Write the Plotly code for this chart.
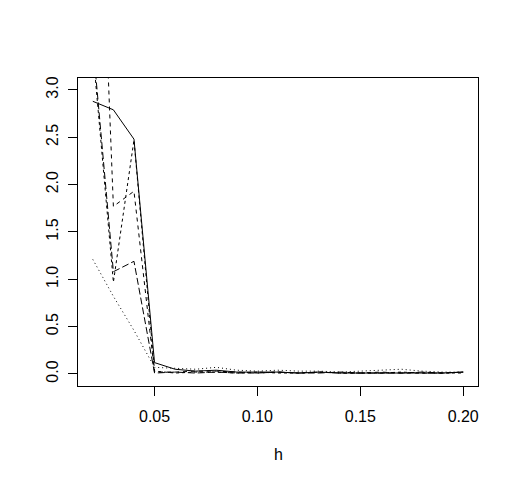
import plotly.graph_objects as go

h = [0.02, 0.03, 0.04, 0.05, 0.06, 0.07, 0.08, 0.09, 0.10, 0.11,
     0.12, 0.13, 0.14, 0.15, 0.16, 0.17, 0.18, 0.19, 0.20]

s_solid = [2.88, 2.79, 2.48, 0.12, 0.05, 0.03, 0.04, 0.02, 0.02, 0.02,
           0.01, 0.02, 0.01, 0.01, 0.01, 0.01, 0.01, 0.01, 0.02]
s_dashed = [7.30, 1.77, 1.93, 0.02, 0.02, 0.03, 0.03, 0.02, 0.01, 0.02,
            0.01, 0.02, 0.01, 0.01, 0.02, 0.01, 0.01, 0.01, 0.02]
s_dotted = [1.21, 0.82, 0.46, 0.07, 0.06, 0.05, 0.07, 0.04, 0.03, 0.04,
            0.03, 0.03, 0.02, 0.03, 0.04, 0.05, 0.03, 0.02, 0.02]
s_dotdash = [3.42, 0.97, 2.47, 0.03, 0.01, 0.02, 0.02, 0.01, 0.02, 0.01,
             0.01, 0.02, 0.01, 0.01, 0.01, 0.02, 0.01, 0.01, 0.01]
s_longdash = [3.50, 1.08, 1.19, 0.01, 0.02, 0.01, 0.02, 0.01, 0.01, 0.02,
              0.01, 0.01, 0.02, 0.01, 0.01, 0.01, 0.02, 0.01, 0.02]

x_ticks = [0.05, 0.10, 0.15, 0.20]
x_labels = ["0.05", "0.10", "0.15", "0.20"]
y_ticks = [0.0, 0.5, 1.0, 1.5, 2.0, 2.5, 3.0]
y_labels = ["0.0", "0.5", "1.0", "1.5", "2.0", "2.5", "3.0"]

series = [
    (s_solid, "solid"),
    (s_dashed, "4px,4px"),
    (s_dotted, "1px,3px"),
    (s_dotdash, "3px,3px"),
    (s_longdash, "7px,3px"),
]

fig = go.Figure()
for vals, dash in series:
    fig.add_trace(go.Scatter(x=h, y=vals, mode="lines",
                             line=dict(color="black", width=1, dash=dash),
                             showlegend=False, hoverinfo="skip"))

font = dict(family="Liberation Sans, Arial, sans-serif", size=16, color="black")

fig.update_layout(
    width=503, height=468,
    margin=dict(l=70, r=33, t=70, b=90),
    paper_bgcolor="white", plot_bgcolor="white",
    font=font,
    xaxis=dict(range=[0.0128, 0.2072], tickvals=x_ticks, ticktext=x_labels,
               showgrid=False, zeroline=False, showline=True, mirror=True,
               linecolor="black", linewidth=1, ticks="outside", ticklen=9,
               tickcolor="black", tickwidth=1, ticklabelstandoff=7),
    yaxis=dict(range=[-0.127, 3.126], tickvals=y_ticks, ticktext=y_labels,
               showgrid=False, zeroline=False, showline=True, mirror=True,
               linecolor="black", linewidth=1, ticks="outside", ticklen=9,
               tickcolor="black", tickwidth=1, tickangle=-90,
               ticklabelstandoff=4),
    annotations=[dict(text="h", xref="paper", yref="paper", x=0.5, y=-0.224,
                      xanchor="center", yanchor="middle", showarrow=False,
                      font=font)],
)

fig.write_html("out.html")
